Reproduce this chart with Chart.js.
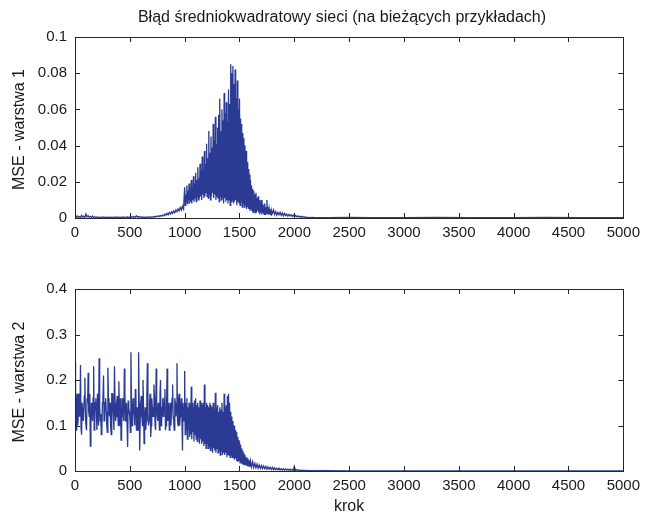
<!DOCTYPE html>
<html><head><meta charset="utf-8">
<script src="https://cdn.jsdelivr.net/npm/chart.js@4"></script>
<style>
html,body{margin:0;padding:0;background:#fff;}
#wrap{position:relative;width:646px;height:515px;overflow:hidden;background:#fff;}
canvas{position:absolute;left:0;}
#c1{top:0;}
#c2{top:255px;}
</style></head><body>
<div id="wrap"><canvas id="c1" width="646" height="255"></canvas><canvas id="c2" width="646" height="260"></canvas></div>
<script>
// ---- labels / ticks ----
const titleText = 'Błąd średniokwadratowy sieci (na bieżących przykładach)';
const yLabel1 = 'MSE - warstwa 1';
const yLabel2 = 'MSE - warstwa 2';
const xLabel = 'krok';
const xTicks = [0,500,1000,1500,2000,2500,3000,3500,4000,4500,5000];
const xTickLabels = ['0','500','1000','1500','2000','2500','3000','3500','4000','4500','5000'];
const yTicks1 = [0,0.02,0.04,0.06,0.08,0.1];
const yTickLabels1 = ['0','0.02','0.04','0.06','0.08','0.1'];
const yTicks2 = [0,0.1,0.2,0.3,0.4];
const yTickLabels2 = ['0','0.1','0.2','0.3','0.4'];

// ---- layer 1 MSE ----
// krok 0..990, every 10
const mse1Early = [
0.001,0.0003,0.0012,0.0004,0.0008,0.0002,0.0015,0.0005,0.001,0.0003,
0.0022,0.0006,0.0012,0.0004,0.0009,0.0003,0.0011,0.0004,0.0007,0.0002,
0.0006,
0.0003,0.0005,0.0002,0.0004,0.0003,0.0006,0.0002,0.0004,0.0003,0.0005,
0.0002,0.0004,0.0003,0.0005,0.0002,0.0004,0.0003,0.0006,0.0002,0.0004,
0.0003,0.0005,0.0002,0.0006,0.0003,0.0004,0.0002,0.0007,0.0003,0.0005,
0.0004,0.0008,0.0003,0.0009,0.0004,0.0012,0.0005,0.0008,0.0004,0.0007,
0.0003,0.0006,0.0004,0.0005,0.0003,0.0006,0.0004,0.0007,0.0003,0.0006,
0.0005,0.0008,0.0006,0.001,0.0007,0.0012,0.0008,0.0014,0.001,0.0016,
0.0012,0.0022,0.0016,0.0026,0.0018,0.003,0.0022,0.0034,0.0025,0.0038,
0.003,0.0045,0.0035,0.005,0.004,0.0058,0.0045,0.0065,0.005
];
// krok 1000..1795, every 5
const mse1Peak = [
0.017,0.007,0.013,0.009,0.018,0.008,0.015,0.010,0.019,0.008,
0.016,0.009,0.021,0.008,0.017,0.010,0.023,0.009,0.019,0.011,
0.025,0.009,0.021,0.012,0.028,0.010,0.022,0.011,0.030,0.012,
0.026,0.010,0.034,0.013,0.027,0.011,0.037,0.012,0.030,0.014,
0.041,0.012,0.033,0.011,0.048,0.013,0.036,0.010,0.045,0.012,
0.039,0.014,0.052,0.011,0.043,0.013,0.056,0.010,0.041,0.012,
0.050,0.011,0.057,0.009,0.066,0.012,0.048,0.010,0.060,0.011,
0.054,0.008,0.069,0.011,0.058,0.009,0.064,0.010,0.053,0.008,
0.071,0.010,0.063,0.007,0.085,0.009,0.080,0.010,0.084,0.008,
0.074,0.009,0.082,0.010,0.066,0.007,0.076,0.009,0.060,0.008,
0.066,0.007,0.055,0.009,0.052,0.006,0.047,0.008,0.044,0.006,
0.040,0.007,0.037,0.005,0.031,0.006,0.027,0.005,0.024,0.004,
0.021,0.005,0.018,0.004,0.016,0.003,0.015,0.004,0.013,0.003,
0.014,0.003,0.011,0.004,0.012,0.003,0.010,0.002,0.009,0.003,
0.010,0.002,0.008,0.003,0.007,0.002,0.008,0.002,0.006,0.003,
0.010,0.002,0.006,0.002,0.005,0.002,0.005,0.0015,0.004,0.002
];
// krok 1800..2200, every 10
const mse1Late = [
0.0025,0.0045,0.002,0.0035,0.0015,0.003,0.0018,0.0032,0.0015,0.0028,
0.0012,0.0025,0.0014,0.0022,0.001,0.002,0.0011,0.0018,0.0009,0.0016,
0.0008,0.0014,0.0007,0.0012,0.0006,0.001,0.0005,0.0009,0.0004,0.0007,
0.0003,0.0005,0.0002,0.0003,0.0002,0.0003,0.0002,0.0003,0.0002,0.0002,
0.0002
];

// ---- layer 2 MSE ----
// krok 0..995, every 5
const mse2Early = [
.24,.13,.09,.16,.17,.10,.12,.17,.16,.12,.233,.095,.08,.15,.15,.11,.11,.165,.205,.12,
.1,.09,.16,.15,.216,.13,.12,.17,.055,.10,.15,.14,.11,.16,.23,.09,.13,.15,.16,.12,
.09,.17,.14,.10,.248,.14,.11,.125,.08,.09,.15,.16,.21,.11,.12,.15,.16,.13,.1,.085,
.227,.16,.13,.12,.15,.10,.08,.17,.17,.14,.12,.09,.23,.15,.11,.12,.15,.165,.13,.10,
.197,.13,.1,.16,.068,.09,.16,.15,.12,.11,.225,.17,.11,.12,.15,.10,.053,.155,.14,.13,
.12,.085,.261,.16,.1,.12,.16,.14,.12,.10,.18,.17,.09,.13,.14,.09,.261,.15,.045,.12,
.15,.165,.12,.10,.2,.14,.06,.12,.14,.09,.11,.16,.237,.13,.1,.11,.15,.17,.075,.10,
.16,.14,.12,.12,.19,.16,.1,.09,.225,.15,.12,.11,.15,.13,.09,.17,.2,.10,.11,.14,
.16,.12,.13,.16,.18,.09,.1,.14,.225,.11,.12,.15,.09,.13,.15,.10,.13,.16,.19,.12,
.11,.09,.16,.15,.12,.13,.237,.11,.1,.16,.17,.10,.12,.14,.16,.12,.045,.15,.15,.11
];
// krok 1000..1595, every 5
const mse2Drop = [
.22,.08,.15,.09,.16,.07,.14,.09,.15,.075,.145,.08,.185,.07,.15,.085,.14,.065,.155,.08,
.16,.07,.145,.065,.15,.075,.14,.06,.155,.07,.15,.06,.145,.065,.15,.055,.19,.06,.14,.05,
.15,.06,.145,.05,.14,.055,.15,.045,.145,.05,.14,.04,.15,.05,.135,.045,.172,.04,.14,.05,
.145,.04,.13,.045,.14,.035,.135,.045,.15,.035,.13,.04,.17,.035,.14,.04,.145,.03,.165,.035,
.17,.035,.15,.03,.13,.035,.12,.03,.11,.028,.1,.025,.09,.028,.085,.022,.075,.02,.068,.022,
.065,.018,.058,.02,.05,.016,.045,.015,.04,.014,.035,.012,.03,.012,.028,.01,.025,.01,.022,.009
];
// krok 1600..2200, every 10
const mse2Late = [
.022,.009,.02,.008,.017,.007,.015,.006,.013,.006,
.012,.005,.011,.005,.01,.004,.009,.004,.008,.0035,
.008,.003,.007,.003,.006,.0025,.006,.0025,.005,.002,
.005,.002,.0045,.002,.004,.0018,.004,.0015,.0035,.0015,
.01,.0015,.003,.0012,.0025,.001,.002,.001,.0018,.0008,
.0015,.0008,.0012,.0007,.001,.0006,.0009,.0006,.0008,.0005,.0007
];
// sparse tail, krok values listed
const tailSteps = [2300,2500,2700,3000,3300,3600,4000,4300,4600,5000];
const mse1Tail = [0.0002,0.0003,0.0002,0.0002,0.0003,0.0002,0.0002,0.0003,0.0002,0.0002];
const mse2Tail = [0.0005,0.0004,0.0004,0.0003,0.0003,0.0003,0.0002,0.0002,0.0002,0.0002];

// ---- rendering ----
const FONT = '"Liberation Sans", Arial, Helvetica, sans-serif';
const LINE_COLOR = '#2b3a92';
const TXT = '#1a1a1a';

function seg(values, start, step) {
  return values.map((v, i) => ({x: start + i * step, y: v}));
}
const layer1 = [].concat(
  seg(mse1Early, 0, 10), seg(mse1Peak, 1000, 5), seg(mse1Late, 1800, 10),
  tailSteps.map((s, j) => ({x: s, y: mse1Tail[j]})));
const layer2 = [].concat(
  seg(mse2Early, 0, 5), seg(mse2Drop, 1000, 5), seg(mse2Late, 1600, 10),
  tailSteps.map((s, j) => ({x: s, y: mse2Tail[j]})));

const axesBox = {
  id: 'axesBox',
  afterDraw(chart, args, o) {
    const {ctx, chartArea: a, scales: {x, y}} = chart;
    ctx.save();
    ctx.strokeStyle = '#262626';
    ctx.lineWidth = 1;
    const L = 5;
    ctx.beginPath();
    x.ticks.forEach(t => {
      const px = Math.round(x.getPixelForValue(t.value)) + 0.5;
      ctx.moveTo(px, a.bottom); ctx.lineTo(px, a.bottom - L);
      ctx.moveTo(px, a.top); ctx.lineTo(px, a.top + L);
    });
    y.ticks.forEach(t => {
      const py = Math.round(y.getPixelForValue(t.value)) + 0.5;
      ctx.moveTo(a.left, py); ctx.lineTo(a.left + L, py);
      ctx.moveTo(a.right, py); ctx.lineTo(a.right - L, py);
    });
    ctx.stroke();
    ctx.strokeRect(Math.round(a.left) + 0.5, Math.round(a.top) + 0.5,
                   Math.round(a.right - a.left), Math.round(a.bottom - a.top));
    ctx.fillStyle = TXT;
    ctx.font = '16px ' + FONT;
    ctx.textAlign = 'center';
    ctx.textBaseline = 'middle';
    if (o.title) ctx.fillText(o.title, o.titleX, o.titleY);
    if (o.xLabel) ctx.fillText(o.xLabel, (a.left + a.right) / 2, o.xLabelY);
    ctx.translate(o.yLabelX, (a.top + a.bottom) / 2 + 2);
    ctx.rotate(-Math.PI / 2);
    ctx.fillText(o.yLabel, 0, 0);
    ctx.restore();
  }
};

function makeChart(id, points, yMax, yTicks, yTickLabels, padTop, xHeight, plug) {
  return new Chart(document.getElementById(id), {
    type: 'line',
    data: {
      datasets: [{
        data: points,
        borderColor: LINE_COLOR,
        borderWidth: 1.3,
        pointRadius: 0,
        tension: 0,
        fill: false
      }]
    },
    options: {
      responsive: false,
      animation: false,
      devicePixelRatio: 1,
      parsing: false,
      layout: {padding: {top: padTop, right: 20, left: 0, bottom: 0}},
      plugins: {legend: {display: false}, tooltip: {enabled: false}, title: {display: false}, axesBox: plug},
      scales: {
        x: {
          type: 'linear', min: 0, max: 5000,
          afterBuildTicks: s => { s.ticks = xTicks.map(v => ({value: v})); },
          afterFit: s => { s.height = xHeight; },
          ticks: {
            callback: v => xTickLabels[xTicks.indexOf(v)],
            font: {family: FONT, size: 15}, color: TXT, padding: 6,
            maxRotation: 0, autoSkip: false
          },
          grid: {display: false, drawTicks: false},
          border: {display: false}
        },
        y: {
          type: 'linear', min: 0, max: yMax,
          afterBuildTicks: s => { s.ticks = yTicks.map(v => ({value: v})); },
          afterFit: s => { s.width = 75; },
          ticks: {
            callback: v => yTickLabels[yTicks.indexOf(v)],
            font: {family: FONT, size: 15}, color: TXT, padding: 8
          },
          grid: {display: false, drawTicks: false},
          border: {display: false}
        }
      }
    },
    plugins: [axesBox]
  });
}

makeChart('c1', layer1, 0.1, yTicks1, yTickLabels1, 37, 37,
  {title: titleText, titleX: 342, titleY: 18, yLabel: yLabel1, yLabelX: 20});
makeChart('c2', layer2, 0.4, yTicks2, yTickLabels2, 34, 44,
  {xLabel: xLabel, xLabelY: 252, yLabel: yLabel2, yLabelX: 20});
</script>
</body></html>
